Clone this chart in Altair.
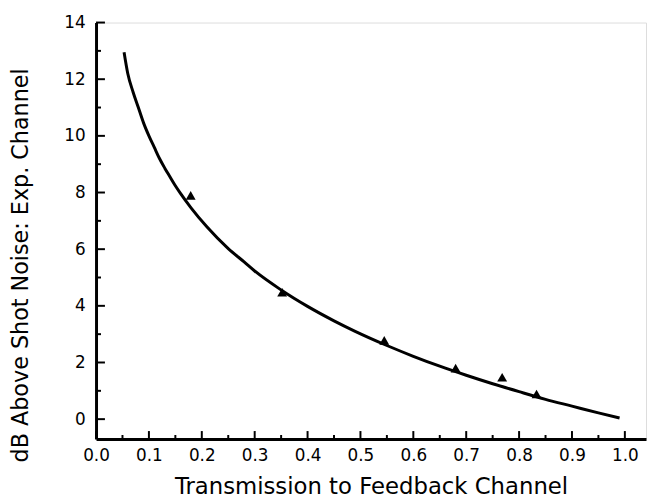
import altair as alt
import pandas as pd

# measured data points (triangles)
pt_x = [0.179, 0.352, 0.545, 0.68, 0.768, 0.833]
pt_y = [7.9, 4.48, 2.78, 1.8, 1.48, 0.89]

# fitted curve, values
curve_x = [0.053, 0.06, 0.07, 0.08, 0.09, 0.10, 0.11, 0.12, 0.13, 0.14, 0.15, 0.16,
           0.18, 0.21, 0.25, 0.28, 0.30, 0.35, 0.40, 0.45, 0.49, 0.55, 0.60, 0.65,
           0.70, 0.75, 0.80, 0.85, 0.90, 0.95, 0.99]
curve_y = [12.95, 12.2, 11.55, 11.0, 10.45, 10.0, 9.6, 9.2, 8.86, 8.55, 8.24, 7.96,
           7.45, 6.78, 6.02, 5.55, 5.23, 4.56, 3.98, 3.47, 3.1, 2.6, 2.22, 1.87,
           1.55, 1.25, 0.97, 0.7, 0.46, 0.22, 0.04]

x_major = [0.0, 0.1, 0.2, 0.3, 0.4, 0.5, 0.6, 0.7, 0.8, 0.9, 1.0]
x_minor = [0.05, 0.15, 0.25, 0.35, 0.45, 0.55, 0.65, 0.75, 0.85, 0.95]
y_major = [0, 2, 4, 6, 8, 10, 12, 14]
y_minor = [1, 3, 5, 7, 9, 11, 13]

W, H = 556, 421
FONT = "DejaVu Sans"

xs = alt.Scale(domain=[0, 1.04], nice=False, zero=False)
ys = alt.Scale(domain=[-0.7, 14], nice=False, zero=False)

pts = pd.DataFrame({"x": pt_x, "y": pt_y})
crv = pd.DataFrame({"x": curve_x, "y": curve_y})

base_x = alt.X("x:Q", scale=xs, axis=alt.Axis(
    values=x_major, format=".1f", ticks=False, grid=False, labelFlush=False,
    title="Transmission to Feedback Channel", titleFontSize=23,
    titleFontWeight="normal", titleFont=FONT, titlePadding=12,
    labelFont=FONT, labelFontSize=17, labelPadding=9, labelColor="black",
    titleColor="black", domainColor="black", domainWidth=3))
base_y = alt.Y("y:Q", scale=ys, axis=alt.Axis(
    values=y_major, format="d", ticks=False, grid=False, labelFlush=False,
    title="dB Above Shot Noise: Exp. Channel", titleFontSize=22.5,
    titleFontWeight="normal", titleFont=FONT, titlePadding=32, titleY=245,
    labelFont=FONT, labelFontSize=17, labelPadding=11, labelColor="black",
    titleColor="black", domainColor="black", domainWidth=3))

line = alt.Chart(crv).mark_line(color="black", strokeWidth=3, interpolate="monotone").encode(
    x=base_x, y=base_y)
tri = alt.Chart(pts).mark_point(shape="triangle-up", filled=True, color="black", size=100, opacity=1).encode(
    x=alt.X("x:Q", scale=xs), y=alt.Y("y:Q", scale=ys))

xmaj = alt.Chart(pd.DataFrame({"t": x_major})).mark_rule(color="black", strokeWidth=2).encode(
    x=alt.X("t:Q", scale=xs), y=alt.value(H), y2=alt.value(H - 8))
xmin = alt.Chart(pd.DataFrame({"t": x_minor})).mark_rule(color="black", strokeWidth=2).encode(
    x=alt.X("t:Q", scale=xs), y=alt.value(H), y2=alt.value(H - 4))
ymaj = alt.Chart(pd.DataFrame({"t": y_major})).mark_rule(color="black", strokeWidth=2).encode(
    y=alt.Y("t:Q", scale=ys), x=alt.value(0), x2=alt.value(9))
ymin = alt.Chart(pd.DataFrame({"t": y_minor})).mark_rule(color="black", strokeWidth=2).encode(
    y=alt.Y("t:Q", scale=ys), x=alt.value(0), x2=alt.value(5))

chart = alt.layer(line, tri, xmaj, xmin, ymaj, ymin).properties(
    width=W, height=H,
    autosize=alt.AutoSizeParams(type="none"),
    padding={"left": 89, "top": 12, "right": 1, "bottom": 60},
).configure_view(stroke=None).configure(background="white")

chart.save("out.html", embed_options={"renderer": "svg", "actions": False})
